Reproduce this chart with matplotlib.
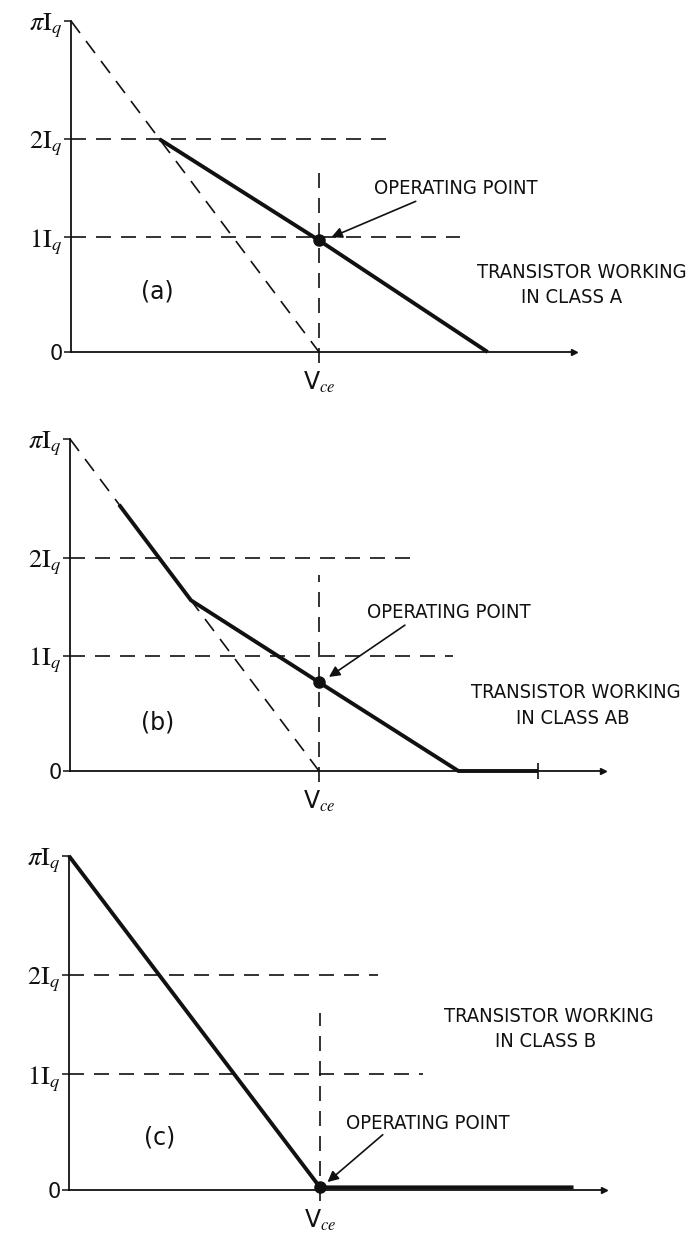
import numpy as np
import matplotlib
matplotlib.use("Agg")
import matplotlib.pyplot as plt
from matplotlib import font_manager

plt.rcParams['mathtext.fontset'] = 'stix'
PI = np.pi

# ---------------- data ----------------
level_values = [0.0, 1.09, 2.02, PI]          # drawn heights of the current levels
level_labels = ['0', r'$1\mathrm{I}_q$', r'$2\mathrm{I}_q$', r'$\pi\mathrm{I}_q$']
vce_label = r'V$_{ce}$'
vce_pos = 1.0

# dashed reference load line (πIq -> Vce)
ref_x = [0.0, 1.0]
ref_y = [PI, 0.0]

# panel (a) class A
a_solid_x = [0.357, 1.0, 1.68]
a_solid_y = [2.02, 1.06, 0.0]
a_op = (1.0, 1.06)
a_h_ends = [1.31, 1.57]        # dashed 2Iq, 1Iq extents
a_v_top = 1.78
a_axis_end = 2.03

# panel (b) class AB
b_solid_x = [0.197, 0.486, 1.0, 1.56, 1.88]
b_solid_y = [2.52, 1.615, 0.84, 0.0, 0.0]
b_op = (1.0, 0.84)
b_h_ends = [1.37, 1.54]
b_v_top = 1.85
b_axis_end = 2.14

# panel (c) class B
c_solid_x = [0.0, 1.0, 2.01]
c_solid_y = [PI, 0.025, 0.025]
c_op = (1.0, 0.025)
c_h_ends = [1.23, 1.41]
c_v_top = 1.665
c_axis_end = 2.13

panel_tags = ['(a)', '(b)', '(c)']
class_lines = [('TRANSISTOR WORKING', 'IN CLASS A'),
               ('TRANSISTOR WORKING', 'IN CLASS AB'),
               ('TRANSISTOR WORKING', 'IN CLASS B')]
op_text = 'OPERATING POINT'

# ---------------- layout ----------------
W, H = 690, 1233
fig = plt.figure(figsize=(W / 100, H / 100), dpi=100)
fig.patch.set_facecolor('white')

INK = '#111111'
DASH = (0, (9, 6))

# pick a narrow sans if one is installed
names = {f.name for f in font_manager.fontManager.ttflist}
narrow_ok = any(('Condensed' in f.fname or 'Narrow' in f.fname)
                for f in font_manager.fontManager.ttflist)
if 'Liberation Sans Narrow' in names:
    label_font = ['Liberation Sans Narrow', 'DejaVu Sans']
    stretch = 'normal'
    op_size, cls_size = 15, 15
else:
    label_font = ['DejaVu Sans']
    stretch = 'condensed'
    op_size, cls_size = (14.5, 14.5) if narrow_ok else (12, 12.5)


def make_ax(top_px, bot_px, x0_px, x1_px, y0_px, ypi_px):
    ax = fig.add_axes([0, 1 - bot_px / H, 1, (bot_px - top_px) / H])
    ux = x1_px - x0_px
    uy = (y0_px - ypi_px) / PI
    ax.set_xlim(-x0_px / ux, (W - x0_px) / ux)
    ax.set_ylim(-(bot_px - y0_px) / uy, (y0_px - top_px) / uy)
    ax.patch.set_visible(False)
    return ax


def draw_panel(ax, solid_x, solid_y, op, h_ends, v_top, axis_end, tag, cls,
               show_ref, op_txt_xy, arrow_tail, arrow_head, tag_xy, cls_xy):
    for s in ['top', 'right']:
        ax.spines[s].set_visible(False)
    ax.spines['left'].set_position(('data', 0))
    ax.spines['bottom'].set_position(('data', 0))
    ax.spines['left'].set_bounds(0, PI)
    ax.spines['bottom'].set_bounds(0, axis_end)
    for s in ['left', 'bottom']:
        ax.spines[s].set_linewidth(1.3)
        ax.spines[s].set_color(INK)

    ax.set_yticks(level_values)
    ax.set_yticklabels(level_labels, fontsize=19)
    ax.get_yticklabels()[0].set_fontsize(15)
    ax.tick_params(axis='y', direction='out', length=5, width=1.1, pad=1, colors=INK)
    ax.set_xticks([vce_pos])
    ax.set_xticklabels([vce_label], fontsize=17)
    ax.tick_params(axis='x', length=0, pad=13, colors=INK)

    # axis end marker
    ax.plot([axis_end], [0], marker='>', ms=4, color=INK, clip_on=False)

    # dashed horizontal level lines
    ax.plot([0, h_ends[0]], [level_values[2]] * 2, ls=DASH, lw=1.2, color=INK)
    ax.plot([0, h_ends[1]], [level_values[1]] * 2, ls=DASH, lw=1.2, color=INK)
    # dashed vertical at Vce
    ax.plot([vce_pos, vce_pos], [-0.1, v_top], ls=DASH, lw=1.2, color=INK, clip_on=False)
    if show_ref:
        ax.plot(ref_x, ref_y, ls=DASH, lw=1.2, color=INK)

    ax.plot(solid_x, solid_y, '-', lw=2.8, color=INK, solid_capstyle='butt',
            solid_joinstyle='miter')
    ax.plot([op[0]], [op[1]], 'o', ms=8, color=INK)

    ax.text(op_txt_xy[0], op_txt_xy[1], op_text, ha='center', va='center',
            fontsize=op_size, family=label_font, fontstretch=stretch, color=INK)
    ax.annotate('', xy=arrow_head, xytext=arrow_tail,
                arrowprops=dict(arrowstyle='-|>', lw=1.2, color=INK,
                                mutation_scale=16, shrinkA=0, shrinkB=0))
    ax.text(tag_xy[0], tag_xy[1], tag, ha='center', va='center', fontsize=17,
            family=['DejaVu Sans'], color=INK)
    ax.text(cls_xy[0][0], cls_xy[0][1], cls[0], ha='center', va='center',
            fontsize=cls_size, family=label_font, fontstretch=stretch, color=INK)
    ax.text(cls_xy[1][0], cls_xy[1][1], cls[1], ha='center', va='center',
            fontsize=cls_size, family=label_font, fontstretch=stretch, color=INK)


ax_a = make_ax(0, 411, 71, 319, 352, 21)
draw_panel(ax_a, a_solid_x, a_solid_y, a_op, a_h_ends, a_v_top, a_axis_end,
           panel_tags[0], class_lines[0], True,
           (1.55, 1.55), (1.39, 1.43), (1.05, 1.09), (0.35, 0.57),
           [(2.06, 0.75), (2.02, 0.52)])

ax_b = make_ax(411, 830, 70, 319, 771, 439)
draw_panel(ax_b, b_solid_x, b_solid_y, b_op, b_h_ends, b_v_top, b_axis_end,
           panel_tags[1], class_lines[1], True,
           (1.52, 1.50), (1.345, 1.38), (1.04, 0.89), (0.35, 0.46),
           [(2.03, 0.74), (2.02, 0.50)])
ax_b.plot([b_solid_x[-1]], [b_solid_y[-1]], marker='|', ms=12, mew=1.2, color=INK)

ax_c = make_ax(830, 1233, 69, 320, 1190, 856)
draw_panel(ax_c, c_solid_x, c_solid_y, c_op, c_h_ends, c_v_top, c_axis_end,
           panel_tags[2], class_lines[2], False,
           (1.43, 0.63), (1.25, 0.52), (1.03, 0.075), (0.36, 0.49),
           [(1.91, 1.63), (1.90, 1.40)])

fig.savefig('out.png', dpi=100)
